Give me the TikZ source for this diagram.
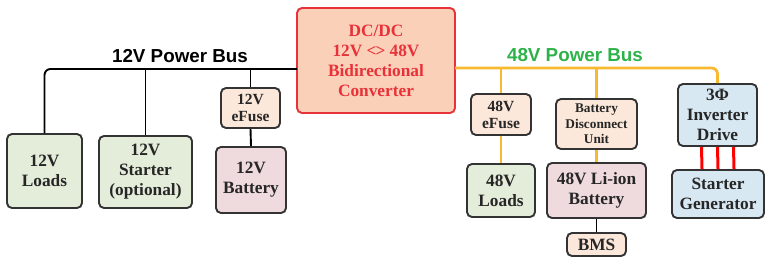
\documentclass[tikz,border=0pt]{standalone}
\usepackage{fontspec}
\setmainfont{Liberation Serif}
\newfontfamily\busfont{Liberation Sans}
\usetikzlibrary{calc}
\definecolor{gfill}{HTML}{E4EDDA}
\definecolor{ofill}{HTML}{FCE8DA}
\definecolor{pfill}{HTML}{EFDADD}
\definecolor{bfill}{HTML}{D8E8F3}
\definecolor{cfill}{HTML}{FBD0B8}
\definecolor{cred}{HTML}{E8323A}
\definecolor{bus48}{HTML}{F6B930}
\definecolor{busgreen}{HTML}{2DB24A}
\definecolor{txt}{HTML}{262626}
\definecolor{edge}{HTML}{333333}
\tikzset{
  box/.style={draw=edge, line width=1.9pt, rounded corners=5pt, align=center, inner sep=0pt,
    font=\bfseries, text=txt},
  bigtxt/.style={font=\fontsize{17.3}{20}\selectfont\bfseries},
  midtxt/.style={font=\fontsize{15.5}{17}\selectfont\bfseries},
  smalltxt/.style={font=\fontsize{13.3}{15.5}\selectfont\bfseries},
  wire12/.style={draw=black, line width=1.9pt},
  wire48/.style={draw=bus48, line width=2.8pt},
  phase/.style={draw=red, line width=3pt},
  buslabel/.style={font=\busfont\fontsize{18.8}{22}\selectfont\bfseries, inner sep=0pt}
}
\begin{document}
\begin{tikzpicture}[x=1pt,y=-1pt]
\useasboundingbox (0,0) rectangle (775,265);
% converter
\node[box, draw=cred, fill=cfill, text=cred, bigtxt, minimum width=158pt, minimum height=105pt]
  (conv) at (376,60.5) {DC/DC\\12V {<}\kern-1pt{>} 48V\\Bidirectional\\Converter};
% 12V side
\node[box, fill=gfill, bigtxt, minimum width=75pt, minimum height=74pt] (l12) at (44.5,171) {12V\\Loads};
\node[box, fill=gfill, bigtxt, minimum width=93pt, minimum height=72pt] (st12) at (145.5,172) {12V\\Starter\\(optional)};
\node[box, fill=ofill, midtxt, minimum width=59pt, minimum height=40pt] (ef12) at (250.5,108) {12V\\eFuse};
\node[box, fill=pfill, bigtxt, minimum width=70pt, minimum height=66pt] (bat12) at (251,180) {12V\\Battery};
% 48V side
\node[box, fill=ofill, midtxt, minimum width=60pt, minimum height=41pt] (ef48) at (501,114.5) {48V\\eFuse};
\node[box, fill=gfill, bigtxt, minimum width=68pt, minimum height=53pt] (l48) at (501,190.5) {48V\\Loads};
\node[box, fill=ofill, smalltxt, minimum width=81pt, minimum height=50pt] (bdu) at (596.5,124) {Battery\\Disconnect\\Unit};
\node[box, fill=pfill, bigtxt, minimum width=99pt, minimum height=55pt] (bat48) at (596.5,190.5) {48V Li-ion\\Battery};
\node[box, fill=ofill, bigtxt, minimum width=59pt, minimum height=23pt] (bms) at (596.5,244.5) {BMS};
\node[box, fill=bfill, bigtxt, minimum width=79pt, minimum height=62pt] (inv) at (717.5,115) {3Φ\\Inverter\\Drive};
\node[box, fill=bfill, bigtxt, minimum width=92pt, minimum height=48pt] (sg) at (718,194) {Starter\\Generator};
% bus labels
\node[buslabel, text=black, anchor=base] (lab12) at (180,62) {12V Power Bus};
\node[buslabel, text=busgreen, anchor=base] (lab48) at (575,61) {48V Power Bus};
% 12V wiring
\coordinate (b12) at (297,69);
\draw[wire12, rounded corners=6pt] (l12.north) |- (b12);
\draw[wire12] (st12.north) -- (st12.north |- b12);
\draw[wire12] (ef12.north) -- (ef12.north |- b12);
\draw[wire12] (ef12.south) -- (bat12.north);
% 48V wiring
\coordinate (b48) at (455,68);
\draw[wire48, rounded corners=6pt] (b48) -| (inv.north);
\draw[wire48] (ef48.north) -- (ef48.north |- b48);
\draw[wire48] (ef48.south) -- (l48.north);
\draw[wire48] (bdu.north) -- (bdu.north |- b48);
\draw[wire48] (bdu.south) -- (bat48.north);
\draw[wire12] (bat48.south) -- (bms.north);
% phases
\foreach \dx in {-16,0,16}{
  \draw[phase] ($(inv.south)+(\dx,0)$) -- ($(sg.north)+(\dx,0)$);
}
\end{tikzpicture}
\end{document}
